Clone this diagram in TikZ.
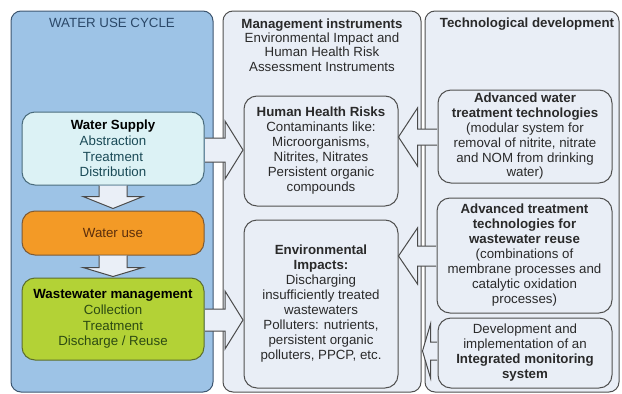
\documentclass[tikz,border=0pt]{standalone}
\usepackage{fontspec}
\setmainfont{Liberation Sans}
\usetikzlibrary{calc}
\definecolor{colAfill}{HTML}{9DC3E6}
\definecolor{colAline}{HTML}{3E5670}
\definecolor{colBfill}{HTML}{E9EEF6}
\definecolor{colBline}{HTML}{505050}
\definecolor{wsfill}{HTML}{DCF2F5}
\definecolor{wsline}{HTML}{4A6C7C}
\definecolor{wufill}{HTML}{F39A26}
\definecolor{wuline}{HTML}{7D5A34}
\definecolor{wwfill}{HTML}{B3D236}
\definecolor{wwline}{HTML}{5C6E2E}
\definecolor{arrfill}{HTML}{EAEFF7}
\definecolor{arrline}{HTML}{4A4A4A}
\definecolor{titleblue}{HTML}{2B4868}
\definecolor{wstext}{HTML}{1B4B57}
\definecolor{wutext}{HTML}{5B2E0C}
\definecolor{wwtext}{HTML}{2C4A12}
\definecolor{darktext}{HTML}{2A2A2A}
\newcommand\hdrfont{\fontsize{13.3}{14.3}\selectfont}
\newcommand\hblock[5]{%
  \draw[blk] let \p1=(#1), \p2=(#2) in
    ({\x1},{\y1+#3}) -- ({\x2-(#5)},{\y1+#3}) -- ({\x2-(#5)},{\y1+#4}) -- ({\x2},{\y1})
    -- ({\x2-(#5)},{\y1-#4}) -- ({\x2-(#5)},{\y1-#3}) -- ({\x1},{\y1-#3});}
\newcommand\vblock[5]{%
  \draw[blk] let \p1=(#1), \p2=(#2) in
    ({\x1-#3},{\y1}) -- ({\x1-#3},{\y2+#5}) -- ({\x1-#4},{\y2+#5}) -- ({\x1},{\y2})
    -- ({\x1+#4},{\y2+#5}) -- ({\x1+#3},{\y2+#5}) -- ({\x1+#3},{\y1});}
\begin{document}
\begin{tikzpicture}[x=1pt,y=-1pt,
  colbox/.style={draw, rounded corners=10pt, line width=1pt, inner sep=0pt},
  box/.style={draw, rounded corners=13pt, line width=1pt, inner sep=0pt, align=center,
    font=\fontsize{13.3}{15}\selectfont},
  innerbox/.style={box, draw=colBline, fill=colBfill, text=darktext},
  blk/.style={draw=arrline, fill=arrfill, line width=1pt, line join=miter},
  hdr/.style={inner sep=0pt, font=\hdrfont}]
\useasboundingbox (0,0) rectangle (622,394);
% columns
\node[colbox, draw=colAline, fill=colAfill, minimum width=202pt, minimum height=381pt] (c1) at (112,201.5) {};
\node[colbox, draw=colBline, fill=colBfill, minimum width=198pt, minimum height=381pt] (c2) at (322,201.5) {};
\node[colbox, draw=colBline, fill=colBfill, minimum width=194pt, minimum height=381pt] (c3) at (522,201.5) {};
% headers
\node[hdr, text=titleblue, anchor=base] (t1) at (112,27) {WATER USE CYCLE};
\node[hdr, text=darktext, align=center, anchor=north] (t2) at (322,18.3)
  {\textbf{Management instruments}\\Environmental Impact and\\Human Health Risk\\Assessment Instruments};
\node[hdr, text=darktext, anchor=base] (t3) at (527,27.5) {\textbf{Technological development}};
% water cycle boxes
\node[box, draw=wsline, fill=wsfill, text=wstext, minimum width=182pt, minimum height=73pt,
  font=\fontsize{13.3}{15.7}\selectfont] (ws) at (113,148.5)
  {\textcolor{black}{\textbf{Water Supply}}\\Abstraction\\Treatment\\Distribution};
\node[box, draw=wuline, fill=wufill, text=wutext, minimum width=182pt, minimum height=44pt] (wu) at (113,233) {Water use};
\node[box, draw=wwline, fill=wwfill, text=wwtext, minimum width=182pt, minimum height=82pt,
  font=\fontsize{13.3}{15.7}\selectfont] (ww) at (113,319)
  {\textcolor{black}{\textbf{Wastewater management}}\\Collection\\Treatment\\Discharge / Reuse};
% management boxes
\node[innerbox, minimum width=154pt, minimum height=110pt] (hhr) at (321,151)
  {\textbf{Human Health Risks}\\Contaminants like:\\Microorganisms,\\Nitrites, Nitrates\\Persistent organic\\compounds};
\node[innerbox, minimum width=154pt, minimum height=168pt] (env) at (321,304)
  {\textbf{Environmental}\\\textbf{Impacts:}\\Discharging\\insufficiently treated\\wastewaters\\Polluters: nutrients,\\persistent organic\\polluters, PPCP, etc.};
% technology boxes
\node[innerbox, minimum width=174pt, minimum height=93pt, font=\fontsize{13.3}{14.8}\selectfont] (aw) at (525,136.5)
  {\textbf{Advanced water}\\\textbf{treatment technologies}\\(modular system for\\removal of nitrite, nitrate\\and NOM from drinking\\water)};
\node[innerbox, minimum width=175pt, minimum height=115pt] (at) at (524.5,255.5)
  {\textbf{Advanced treatment}\\\textbf{technologies for}\\\textbf{wastewater reuse}\\(combinations of\\membrane processes and\\catalytic oxidation\\processes)};
\node[innerbox, minimum width=174pt, minimum height=70pt] (mon) at (525,353)
  {Development and\\implementation of an\\\textbf{Integrated monitoring}\\\textbf{system}};
% block arrows
\vblock{ws.south}{$(wu.north)+(0,-2)$}{14pt}{30pt}{12pt}
\vblock{wu.south}{$(ww.north)+(0,-1)$}{14pt}{30pt}{9pt}
\hblock{$(ws.east)+(0.5,1.5)$}{$(hhr.west)+(-0.5,0)$}{12pt}{29pt}{18pt}
\hblock{$(ww.east)+(0.5,1)$}{$(env.west)+(-0.5,0)$}{11pt}{29pt}{18pt}
\hblock{$(aw.west)+(-0.5,0.5)$}{hhr.east}{8pt}{29pt}{-19pt}
\hblock{$(at.west)+(-0.5,0.5)$}{env.east}{10pt}{28pt}{-19pt}
\hblock{$(mon.west)+(-0.5,-2)$}{$(c2.east)+(1,0)$}{9pt}{27pt}{-8pt}
\end{tikzpicture}
\end{document}
